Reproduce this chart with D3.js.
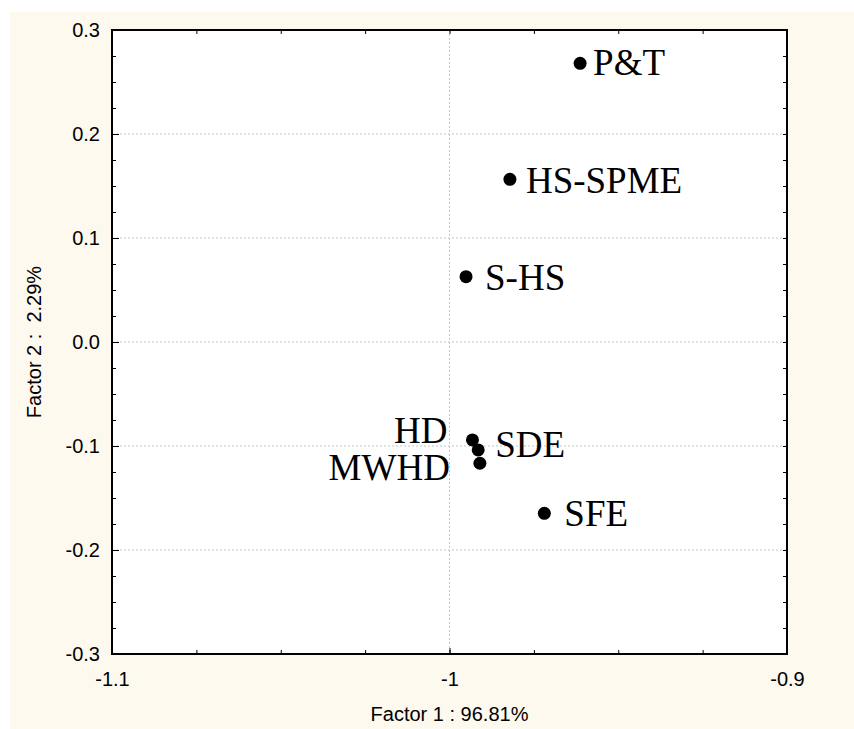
<!DOCTYPE html>
<html lang="en">
<head>
  <meta charset="UTF-8">
  <title></title>
  <style>
    body { margin: 0; background: #fff; }
  </style>
</head>
<body>
  <script src="https://cdn.jsdelivr.net/npm/d3@7"></script>
  <script>
    // factor scores
    const methods = ["P&T", "HS-SPME", "S-HS", "HD", "SDE", "MWHD", "SFE"];
    const factor1 = [-0.9613, -0.9821, -0.9951, -0.9932, -0.9915, -0.9910, -0.9719];
    const factor2 = [0.268, 0.1564, 0.0628, -0.0942, -0.1038, -0.1166, -0.1647];
    const xTicks = [-1.1, -1, -0.9];
    const yTicks = [0.3, 0.2, 0.1, 0.0, -0.1, -0.2, -0.3];
    const xTitle = "Factor 1 : 96.81%";
    const yTitle = "Factor 2 :  2.29%";

    // label placement relative to the dot (dx, dy, anchor)
    const labelPos = {
      "P&T": [13, 12, "start"],
      "HS-SPME": [16, 14, "start"],
      "S-HS": [19, 13, "start"],
      "HD": [-25, 3, "end"],
      "SDE": [17, 7, "start"],
      "MWHD": [-30, 17, "end"],
      "SFE": [20, 13, "start"]
    };

    const [width, height] = [854, 729];
    const margin = { top: 30, right: 67, bottom: 75, left: 112 };
    const sans = "Liberation Sans, Arial, sans-serif";

    const data = methods.map((m, i) => ({ name: m, f1: factor1[i], f2: factor2[i] }));

    // plain hyphen instead of the unicode minus d3 uses
    const hy = f => d => f(d).replace("\u2212", "-");
    const fmtX = hy(d => d === -1 ? "-1" : d3.format(".1f")(d));
    const fmtY = hy(d3.format(".1f"));

    const x = d3.scaleLinear()
      .domain([-1.1, -0.9])
      .range([margin.left, width - margin.right]);
    const y = d3.scaleLinear()
      .domain([-0.3, 0.3])
      .range([height - margin.bottom, margin.top]);

    const minorX = d3.range(-1.1, -0.9 + 1e-9, 0.025);
    const minorY = d3.range(-0.3, 0.3 + 1e-9, 0.025);

    const svg = d3.select(document.body)
      .append("svg")
      .attr("width", width)
      .attr("height", height)
      .attr("viewBox", [0, 0, width, height]);

    svg.append("rect")
      .attr("x", 10).attr("y", 12)
      .attr("width", width - 10).attr("height", height - 12)
      .attr("fill", "#fdf9ef");

    svg.append("rect")
      .attr("x", x(-1.1)).attr("y", y(0.3))
      .attr("width", x(-0.9) - x(-1.1)).attr("height", y(-0.3) - y(0.3))
      .attr("fill", "#fff");

    // grid
    const grid = svg.append("g")
      .attr("stroke", "#c4c4c4")
      .attr("stroke-width", 1)
      .attr("stroke-dasharray", "2,2");
    grid.selectAll(".gx")
      .data(xTicks.slice(1, -1))
      .join("line")
      .attr("x1", d => x(d)).attr("x2", d => x(d))
      .attr("y1", y(0.3)).attr("y2", y(-0.3));
    grid.selectAll(".gy")
      .data(yTicks.slice(1, -1))
      .join("line")
      .attr("y1", d => y(d)).attr("y2", d => y(d))
      .attr("x1", x(-1.1)).attr("x2", x(-0.9));

    // axes with inward ticks
    const minorFmt = () => "";
    svg.append("g")
      .attr("transform", `translate(0,${y(-0.3)})`)
      .call(d3.axisBottom(x).tickValues(minorX).tickSize(-4).tickFormat(minorFmt))
      .call(g => g.select(".domain").remove());
    svg.append("g")
      .attr("transform", `translate(0,${y(-0.3)})`)
      .call(d3.axisBottom(x).tickValues(xTicks).tickSize(-6).tickPadding(18).tickFormat(fmtX))
      .call(g => g.select(".domain").remove())
      .call(g => g.selectAll("text").attr("font-size", 20).attr("font-family", sans).attr("fill", "#000"));
    svg.append("g")
      .attr("transform", `translate(0,${y(0.3)})`)
      .call(d3.axisTop(x).tickValues(minorX).tickSize(-4).tickFormat(minorFmt))
      .call(g => g.select(".domain").remove());

    svg.append("g")
      .attr("transform", `translate(${x(-1.1)},0)`)
      .call(d3.axisLeft(y).tickValues(minorY).tickSize(-4).tickFormat(minorFmt))
      .call(g => g.select(".domain").remove());
    svg.append("g")
      .attr("transform", `translate(${x(-1.1)},0)`)
      .call(d3.axisLeft(y).tickValues(yTicks).tickSize(-7).tickPadding(12).tickFormat(fmtY))
      .call(g => g.select(".domain").remove())
      .call(g => g.selectAll("line").attr("x1", 2))
      .call(g => g.selectAll("text").attr("font-size", 20).attr("font-family", sans).attr("fill", "#000"));
    svg.append("g")
      .attr("transform", `translate(${x(-0.9)},0)`)
      .call(d3.axisRight(y).tickValues(minorY).tickSize(-4).tickFormat(minorFmt))
      .call(g => g.select(".domain").remove());

    // frame
    svg.append("rect")
      .attr("x", x(-1.1)).attr("y", y(0.3))
      .attr("width", x(-0.9) - x(-1.1)).attr("height", y(-0.3) - y(0.3))
      .attr("fill", "none")
      .attr("stroke", "#000")
      .attr("stroke-width", 2);

    // titles
    svg.append("text")
      .attr("x", (x(-1.1) + x(-0.9)) / 2)
      .attr("y", 721)
      .attr("text-anchor", "middle")
      .attr("font-family", sans)
      .attr("font-size", 20)
      .style("white-space", "pre")
      .text(xTitle);
    svg.append("text")
      .attr("transform", `translate(41,${(y(0.3) + y(-0.3)) / 2}) rotate(-90)`)
      .attr("text-anchor", "middle")
      .attr("font-family", sans)
      .attr("font-size", 20)
      .style("white-space", "pre")
      .text(yTitle);

    // points and labels
    const pts = svg.append("g")
      .selectAll("g")
      .data(data)
      .join("g")
      .attr("transform", d => `translate(${x(d.f1)},${y(d.f2)})`);
    pts.append("circle")
      .attr("r", 6.5)
      .attr("fill", "#000");
    pts.append("text")
      .attr("x", d => labelPos[d.name][0])
      .attr("y", d => labelPos[d.name][1])
      .attr("text-anchor", d => labelPos[d.name][2])
      .attr("font-family", "Liberation Serif, Times New Roman, serif")
      .attr("font-size", 37)
      .text(d => d.name);
  </script>
</body>
</html>
